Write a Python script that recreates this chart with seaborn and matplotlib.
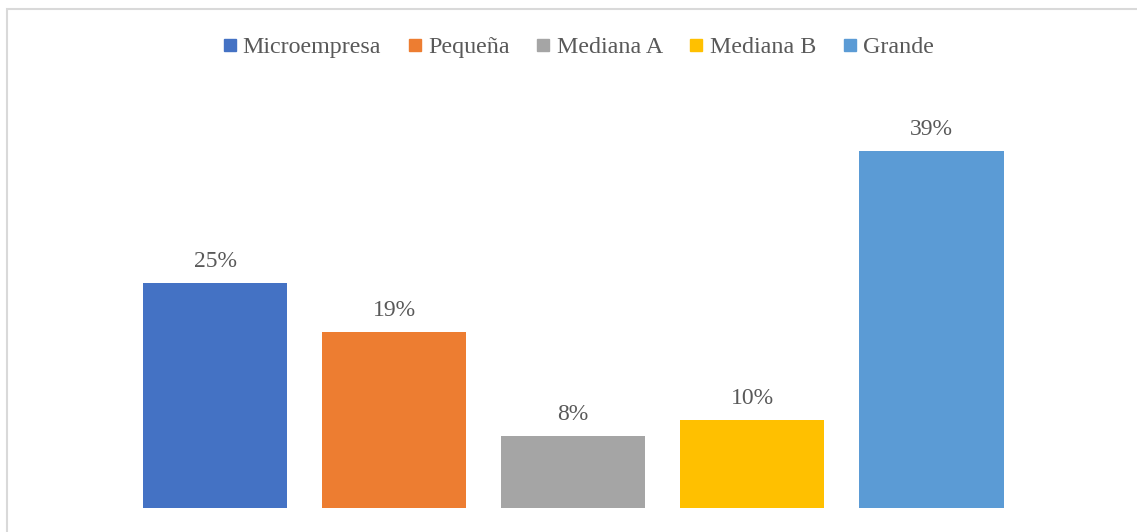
import matplotlib.pyplot as plt
import pandas as pd
import seaborn as sns
from matplotlib.lines import Line2D
from matplotlib.patches import Rectangle

# Data
categories = ["Microempresa", "Pequeña", "Mediana A", "Mediana B", "Grande"]
shares = [24.6, 19.3, 7.9, 9.6, 39.1]
share_labels = ["25%", "19%", "8%", "10%", "39%"]
colors = ["#4472C4", "#ED7D31", "#A5A5A5", "#FFC000", "#5B9BD5"]

df = pd.DataFrame({"tipo": categories, "valor": shares})

sns.set_theme(style="white")
plt.rcParams["font.family"] = ["Liberation Serif", "DejaVu Serif"]
text_color = "#595959"

W, H = 1137, 532
fig = plt.figure(figsize=(W / 100, H / 100), dpi=100)
# axes placed in pixel coordinates of the reference
left, right, bottom, top = 125.5, 1021, 508, 97
ax = fig.add_axes([left / W, 1 - bottom / H, (right - left) / W, (bottom - top) / H])

sns.barplot(
   data=df, x="tipo", y="valor", hue="tipo",
   palette=colors, order=categories, hue_order=categories,
   width=0.805, saturation=1, dodge=False, legend=False,
   linewidth=0, ax=ax,
)
ax.set_ylim(0, 45)
ax.set_xlim(-0.5, len(categories) - 0.5)

for container, lab in zip(ax.containers, share_labels):
   ax.bar_label(container, labels=[lab], padding=8, fontsize=17, color=text_color)

ax.set_xticks([])
ax.set_yticks([])
ax.set_xlabel("")
ax.set_ylabel("")
sns.despine(ax=ax, left=True, bottom=True)

# legend on top
handles = [
   Line2D([], [], marker="s", linestyle="none", markersize=8,
          markerfacecolor=c, markeredgecolor=c)
   for c in colors
]
fig.legend(
   handles, categories, loc="center", bbox_to_anchor=(578 / W, 1 - 47 / H),
   ncol=5, frameon=False, fontsize=17.3, labelcolor=text_color,
   handlelength=0.6, handletextpad=0.25, columnspacing=1.1,
)

# light chart border (only top and left are visible in the crop)
fig.add_artist(Rectangle(
   (6.5 / W, -0.1), 1.2, (1 - 8.5 / H) + 0.1,
   transform=fig.transFigure, fill=False, edgecolor="#d9d9d9", linewidth=1.5,
))

fig.savefig("out.png", dpi=100)
